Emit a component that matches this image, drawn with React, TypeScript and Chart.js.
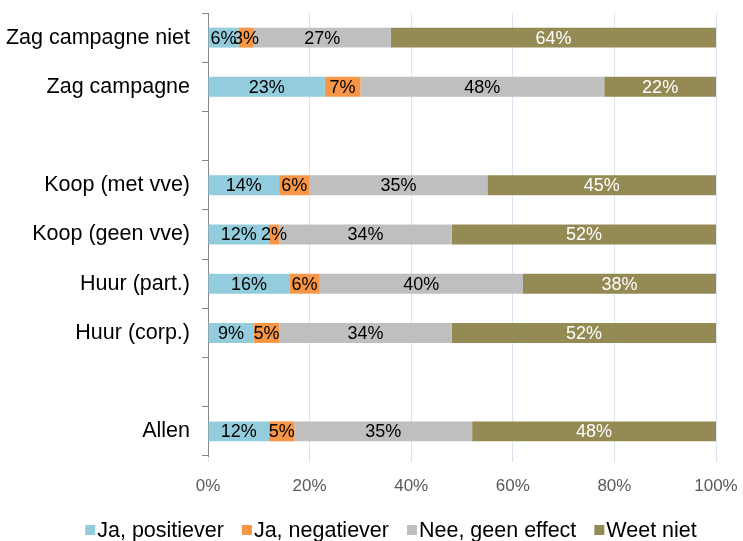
import React, { useEffect, useRef } from "react";
import { Chart, registerables } from "chart.js";

Chart.register(...registerables);

const categories = [
  "Zag campagne niet",
  "Zag campagne",
  "",
  "Koop (met vve)",
  "Koop (geen vve)",
  "Huur (part.)",
  "Huur (corp.)",
  "",
  "Allen",
];

const seriesNames = ["Ja, positiever", "Ja, negatiever", "Nee, geen effect", "Weet niet"];
const positiever = [6, 23, null, 14, 12, 16, 9, null, 12];
const negatiever = [3, 7, null, 6, 2, 6, 5, null, 5];
const geenEffect = [27, 48, null, 35, 34, 40, 34, null, 35];
const weetNiet = [64, 22, null, 45, 52, 38, 52, null, 48];
const xTicks = [0, 20, 40, 60, 80, 100];

const colors = ["#93CDDD", "#F79646", "#BFBFBF", "#948A54"];
const labelColors = ["#000000", "#000000", "#000000", "#FFFFFF"];

const FONT = "'Liberation Sans', Arial, sans-serif";

const valueLabels = {
  id: "valueLabels",
  afterDatasetsDraw(chart: any) {
    const ctx = chart.ctx;
    ctx.save();
    ctx.font = `18px ${FONT}`;
    ctx.textAlign = "center";
    ctx.textBaseline = "middle";
    chart.data.datasets.forEach((ds: any, di: number) => {
      const meta = chart.getDatasetMeta(di);
      meta.data.forEach((el: any, i: number) => {
        const v = ds.data[i];
        if (v == null) return;
        const cx = (el.x + el.base) / 2;
        ctx.fillStyle = labelColors[di];
        ctx.fillText(`${v}%`, cx, el.y + 1);
      });
    });
    ctx.restore();
  },
};

const customLegend = {
  id: "customLegend",
  afterDraw(chart: any) {
    const ctx = chart.ctx;
    ctx.save();
    const size = 21.5;
    ctx.font = `${size}px ${FONT}`;
    ctx.textBaseline = "alphabetic";
    ctx.textAlign = "left";
    const box = 10;
    const boxGap = 2;
    const itemGap = 18;
    const items = chart.data.datasets.map((ds: any) => ({
      label: ds.label,
      color: ds.backgroundColor,
      w: ctx.measureText(ds.label).width,
    }));
    const total =
      items.reduce((s: number, it: any) => s + box + boxGap + it.w, 0) + itemGap * (items.length - 1);
    let x = 391 - total / 2;
    const baseline = 537;
    items.forEach((it: any) => {
      ctx.fillStyle = it.color;
      ctx.fillRect(x, baseline - 12, box, box);
      ctx.fillStyle = "#000000";
      ctx.fillText(it.label, x + box + boxGap, baseline);
      x += box + boxGap + it.w + itemGap;
    });
    ctx.restore();
  },
};

export default function App() {
  const ref = useRef<HTMLCanvasElement>(null);
  useEffect(() => {
    if (!ref.current) return;
    const data = [positiever, negatiever, geenEffect, weetNiet];
    const chart = new Chart(ref.current, {
      type: "bar",
      data: {
        labels: categories,
        datasets: seriesNames.map((name, i) => ({
          label: name,
          data: data[i] as any,
          backgroundColor: colors[i],
          borderWidth: 0,
          barPercentage: 0.405,
          categoryPercentage: 1,
        })),
      },
      options: {
        indexAxis: "y",
        animation: false,
        responsive: false,
        layout: { padding: { top: 13, right: 27, left: 0, bottom: 40 } },
        scales: {
          x: {
            stacked: true,
            min: 0,
            max: 100,
            afterBuildTicks: (scale: any) => {
              scale.ticks = xTicks.map((v) => ({ value: v }));
            },
            afterFit: (scale: any) => {
              scale.height = 45;
              scale.paddingLeft = 0;
              scale.paddingRight = 0;
            },
            border: { display: false },
            grid: { color: "#DAE3F0", lineWidth: 1, tickLength: 6, drawTicks: true },
            ticks: {
              color: "#595959",
              font: { family: FONT, size: 17 },
              padding: 14,
              callback: (v: any) => `${v}%`,
            },
          },
          y: {
            stacked: true,
            afterFit: (scale: any) => {
              scale.width = 208;
              scale.paddingTop = 0;
              scale.paddingBottom = 0;
            },
            border: { display: true, color: "#868686", width: 1 },
            grid: {
              drawOnChartArea: false,
              drawTicks: true,
              tickLength: 6,
              color: "#868686",
              offset: true,
            },
            ticks: {
              color: "#000000",
              font: { family: FONT, size: 21.5 },
              padding: 12,
              autoSkip: false,
            },
          },
        },
        plugins: {
          legend: { display: false },
          tooltip: { enabled: false },
        },
      },
      plugins: [valueLabels, customLegend],
    });
    return () => chart.destroy();
  }, []);
  return (
    <div style={{ position: "fixed", left: 0, top: 0, width: 743, height: 541, background: "#fff" }}>
      <canvas ref={ref} width={743} height={541} />
    </div>
  );
}
